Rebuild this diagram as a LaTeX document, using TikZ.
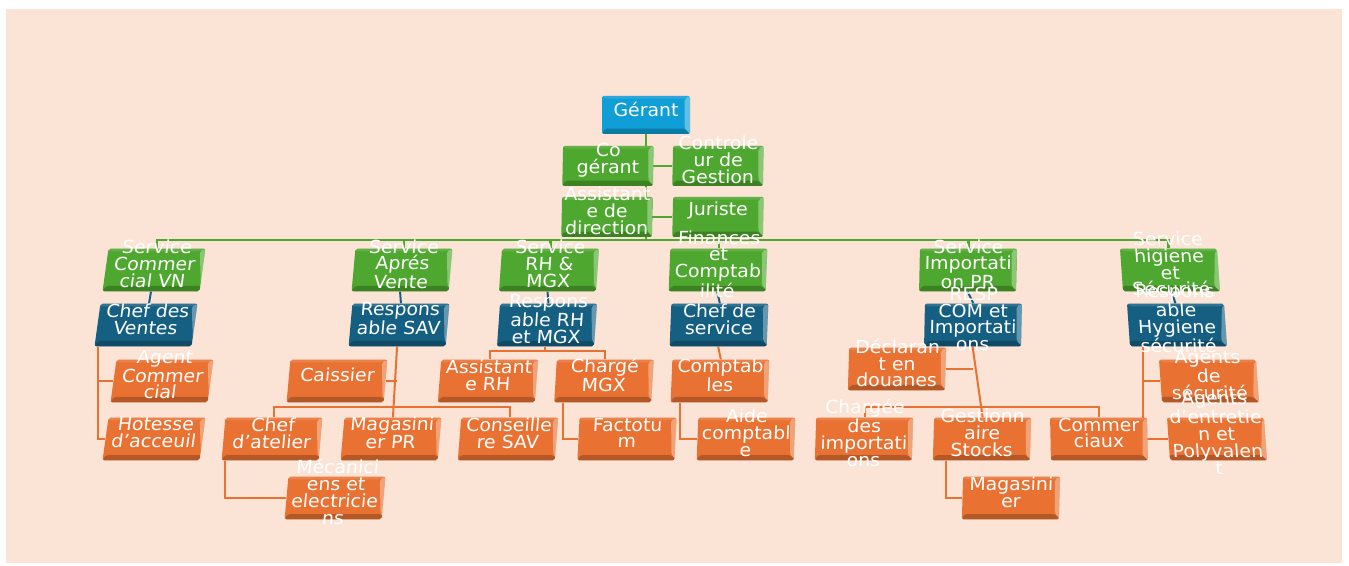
\documentclass[tikz,border=0pt]{standalone}
\usepackage{fontspec}
\setmainfont{DejaVu Sans}[FakeStretch=1.05]
\usepackage{xcolor}
\usepackage{tikz}
\definecolor{peach}{HTML}{FBE3D6}
\definecolor{cvert}{HTML}{4EA72E}
\definecolor{cbleu}{HTML}{156082}
\definecolor{cciel}{HTML}{0F9ED5}
\definecolor{corange}{HTML}{E97132}
\pgfdeclarelayer{background}
\pgfdeclarelayer{front}
\pgfsetlayers{background,main,front}
\tikzstyle{bevel} = [path picture={
   \fill[white,opacity=.35] (path picture bounding box.north east) -- (path picture bounding box.south east) -- ([shift={(-4pt,4pt)}]path picture bounding box.south east) -- ([shift={(-4pt,-2pt)}]path picture bounding box.north east) -- cycle;
   \fill[black,opacity=.22] (path picture bounding box.south west) -- (path picture bounding box.south east) -- ([shift={(-4pt,4pt)}]path picture bounding box.south east) -- ([shift={(2pt,4pt)}]path picture bounding box.south west) -- cycle;
   \fill[white,opacity=.12] (path picture bounding box.north west) -- (path picture bounding box.north east) -- ([shift={(-4pt,-2pt)}]path picture bounding box.north east) -- ([shift={(2pt,-2pt)}]path picture bounding box.north west) -- cycle;}]
\tikzstyle{box} = [rectangle, rounded corners=1.5pt, inner sep=0pt, minimum width=72.75pt, minimum height=32pt, bevel]
\tikzstyle{small} = [minimum width=68pt, minimum height=30pt]
\tikzstyle{cbox} = [box, fill=cciel]
\tikzstyle{gbox} = [box, fill=cvert]
\tikzstyle{bbox} = [box, fill=cbleu]
\tikzstyle{obox} = [box, fill=corange]
\tikzstyle{txt} = [inner sep=0pt, text=white, font=\fontsize{13.5pt}{12.6pt}\selectfont]
\tikzstyle{gline} = [draw=cvert, line width=1.6pt]
\tikzstyle{bline} = [draw=cbleu, line width=1.5pt]
\tikzstyle{oline} = [draw=corange, line width=1.5pt]
\newcommand{\cell}[1]{\raisebox{5.5pt}{\parbox[c][0pt][c]{110pt}{\centering #1}}}
\newcommand{\orgunit}[5]{%
  \node[#1, xslant=#2] (#3) at (#4) {};
  \begin{pgfonlayer}{front}
    \node[txt, xslant=#2] (#3-t) at (#3) {\cell{#5}};
  \end{pgfonlayer}}

\begin{document}
\begin{tikzpicture}[x=0.75pt, y=-0.75pt]
   \useasboundingbox (0,0) rectangle (1349,566);
   % direction
   \orgunit{cbox, minimum width=66pt, minimum height=28.5pt}{0}{ger}{646,115}{Gérant}
   \orgunit{gbox, small}{0.02}{cog}{608,166}{Co\\gérant}
   \orgunit{gbox, small}{0.02}{ctr}{718,166}{Controle\\ur de\\Gestion}
   \orgunit{gbox, small}{0.02}{asd}{607,217}{Assistant\\e de\\direction}
   \orgunit{gbox, small}{0.02}{jur}{718,217}{Juriste}
   % services
   \orgunit{gbox}{0.14}{svn}{154,270}{Service\\Commer\\cial VN}
   \orgunit{gbox}{0.09}{sav}{402,270}{Service\\Aprés\\Vente}
   \orgunit{gbox}{0.07}{srh}{549,270}{Service\\RH \&\\MGX}
   \orgunit{gbox}{0.04}{sfi}{718,270}{Finances\\et\\Comptab\\ilité}
   \orgunit{gbox}{0.02}{sim}{968,270}{Service\\Importati\\on PR}
   \orgunit{gbox}{-0.07}{shy}{1170,270}{Service\\higiene\\et\\Sécurité}
   % responsables
   \orgunit{bbox}{0.14}{cdv}{146,325}{Chef des\\Ventes}
   \orgunit{bbox}{0.09}{rsa}{399,325}{Respons\\able SAV}
   \orgunit{bbox}{0.07}{rrh}{547,325}{Respons\\able RH\\et MGX}
   \orgunit{bbox}{0.04}{cds}{719,325}{Chef de\\service}
   \orgunit{bbox}{0.02}{rci}{973,325}{RESP\\COM et\\Importati\\ons}
   \orgunit{bbox}{-0.07}{rhs}{1177,325}{Respons\\able\\Hygiene\\sécurité}
   % agents
   \orgunit{obox}{0.14}{agc}{162,381}{Agent\\Commer\\cial}
   \orgunit{obox}{0.14}{hot}{154,439}{Hotesse\\d'acceuil}
   \orgunit{obox}{0.09}{cai}{337,381}{Caissier}
   \orgunit{obox}{0.09}{cat}{272,439}{Chef\\d'atelier}
   \orgunit{obox}{0.09}{mpr}{391,439}{Magasini\\er PR}
   \orgunit{obox}{0.08}{csa}{508,439}{Conseille\\re SAV}
   \orgunit{obox}{0.09}{mec}{335,498}{Mécanici\\ens et\\electricie\\ns}
   \orgunit{obox}{0.08}{arh}{488,381}{Assistant\\e RH}
   \orgunit{obox}{0.06}{cmg}{604,381}{Chargé\\MGX}
   \orgunit{obox}{0.05}{fac}{627,439}{Factotu\\m}
   \orgunit{obox}{0.04}{cpt}{720,381}{Comptab\\les}
   \orgunit{obox}{0.04}{aid}{746,439}{Aide\\comptabl\\e}
   \orgunit{obox}{0.03}{dec}{897,369}{Déclaran\\t en\\douanes}
   \orgunit{obox}{0.03}{chi}{864,439}{Chargée\\des\\importati\\ons}
   \orgunit{obox}{0.03}{gst}{982,439}{Gestionn\\aire\\Stocks}
   \orgunit{obox}{-0.02}{com}{1099,439}{Commer\\ciaux}
   \orgunit{obox}{0.03}{mag}{1011,498}{Magasini\\er}
   \orgunit{obox}{-0.07}{ags}{1209,381}{Agents\\de\\sécurité}
   \orgunit{obox}{-0.07}{age}{1217,439}{Agents\\d'entretie\\n et\\Polyvalen\\t}
   \begin{pgfonlayer}{background}
      \fill[white] (0,0) rectangle (1349,566);
      \fill[peach] (6,9) rectangle (1342,563);
      % liaisons
      \coordinate (bus) at (646,240);
      \draw[gline] (ger.south) -- (ger.south |- bus);
      \draw[gline] (ger.south |- ctr.west) -- (ctr.west);
      \draw[gline] (ger.south |- jur.west) -- (jur.west);
      \draw[gline] (svn.north) -- (svn.north |- bus) -- (shy.north |- bus) -- (shy.north);
      \foreach \s in {sav,srh,sfi,sim}
         \draw[gline] (\s.north) -- (\s.north |- bus);
      \foreach \s/\r in {svn/cdv,sav/rsa,srh/rrh,sfi/cds,sim/rci,shy/rhs}
         \draw[bline] (\s.south) -- (\r.north);
      \coordinate (t1) at ([xshift=3pt]cdv.south west);
      \draw[oline] (t1) |- (hot.west);
      \draw[oline] (t1 |- agc.west) -- (agc.west);
      \draw[oline] (rsa.south) -- (mpr.north);
      \draw[oline] (cai.east) -- (cai.east -| rsa.south);
      \draw[oline] (cat.north) -- ++(0,-10) -| (csa.north);
      \draw[oline] ([xshift=3pt]cat.south west) |- (mec.west);
      \draw[oline] (rrh.south) -- ++(0,4) coordinate (j3);
      \draw[oline] (arh.north) |- (j3) -| (cmg.north);
      \draw[oline] ([xshift=7pt]cmg.south west) |- (fac.west);
      \draw[oline] (cds.south) -- (cpt.north);
      \draw[oline] ([xshift=7pt]cpt.south west) |- (aid.west);
      \draw[oline] (rci.south) -- (gst.north);
      \draw[oline] (dec.east) -- (dec.east -| rci.south);
      \draw[oline] (chi.north) -- ++(0,-10) -| (com.north);
      \draw[oline] ([xshift=10pt]gst.south west) |- (mag.west);
      \coordinate (t6) at ([xshift=10pt]rhs.south west);
      \draw[oline] (t6) |- (age.west);
      \draw[oline] (t6 |- ags.west) -- (ags.west);
   \end{pgfonlayer}
\end{tikzpicture}
\end{document}
